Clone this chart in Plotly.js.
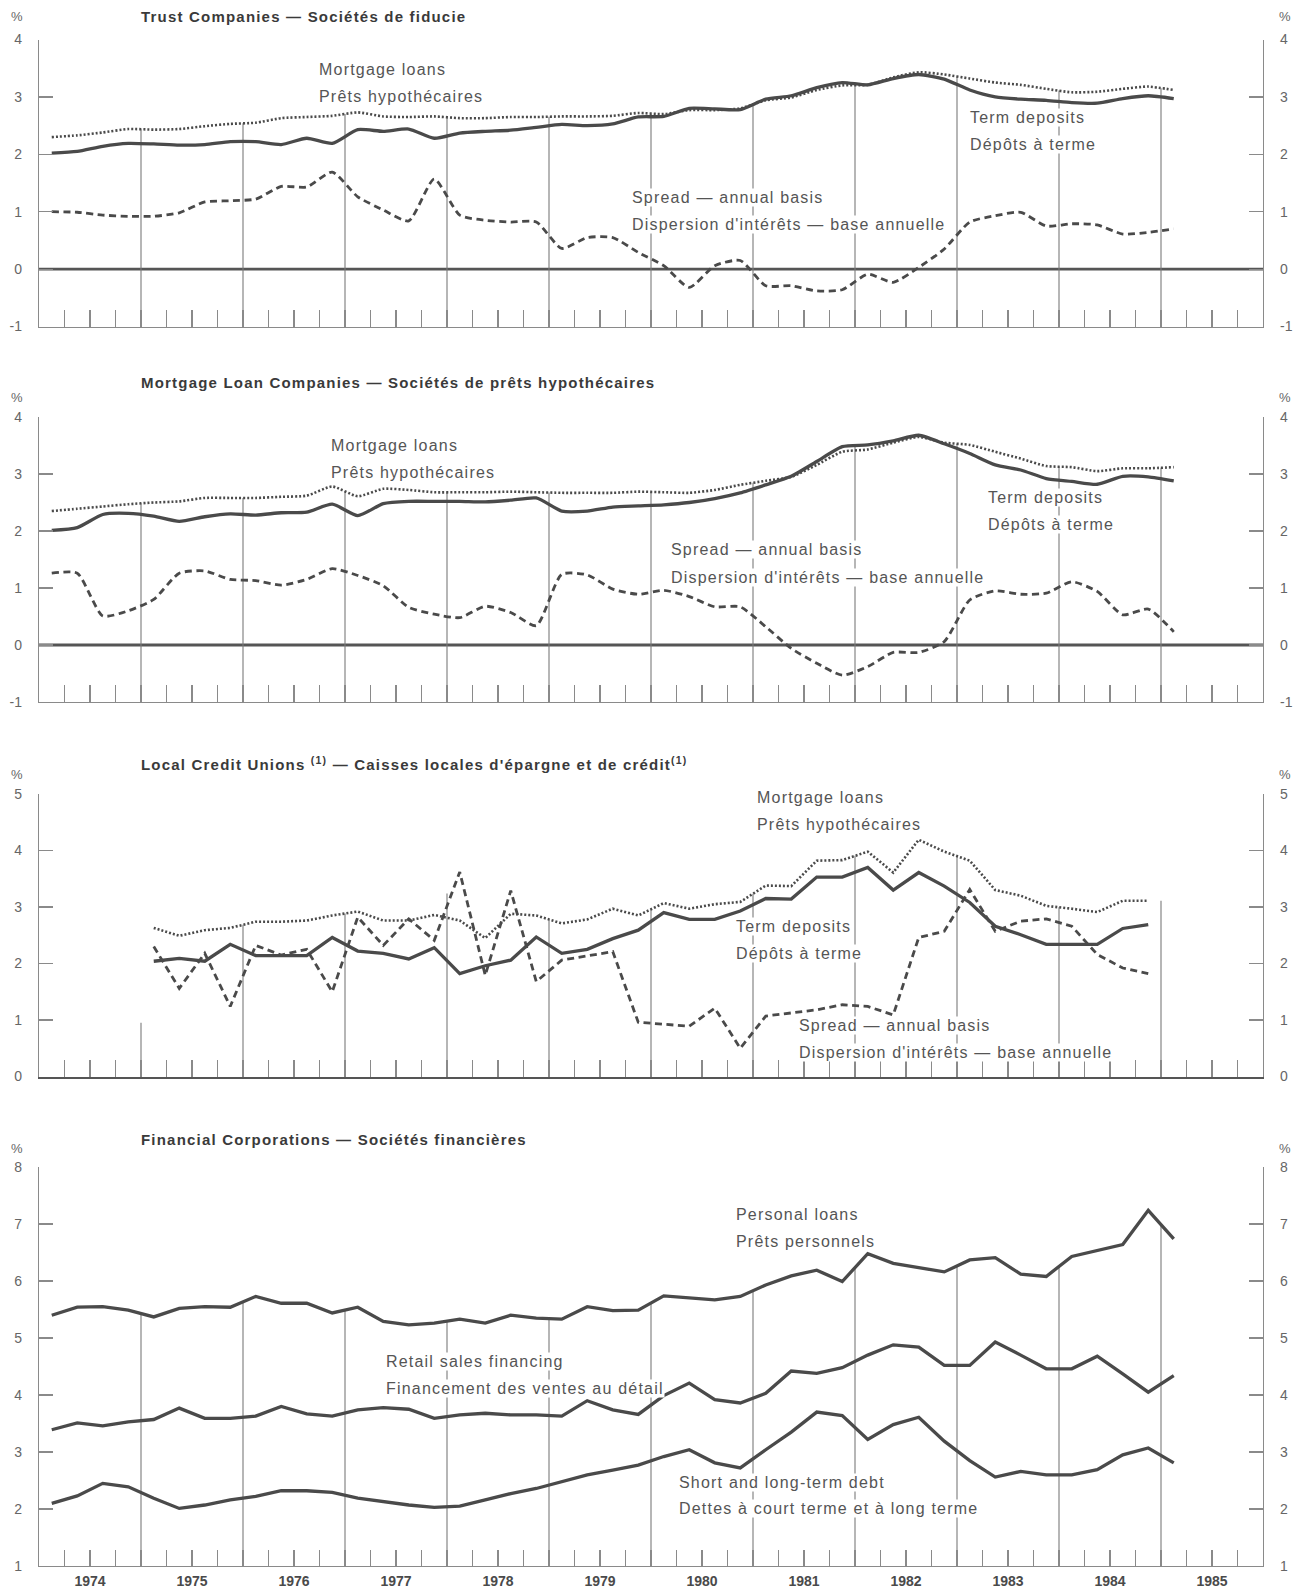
<!DOCTYPE html>
<html>
<head>
<meta charset="utf-8">
<script src="https://cdn.plot.ly/plotly-3.0.1.min.js"></script>
<style>
  body { margin: 0; background: #fff; }
  #chart { width: 1304px; height: 1591px; }
  .annotation-text { letter-spacing: 1.2px; }
  .xtick text { letter-spacing: 1.2px; }
</style>
</head>
<body>
<div id="chart"></div>
<script>
// ---------------- DATA ----------------
const yearLabels = ['1974','1975','1976','1977','1978','1979','1980','1981','1982','1983','1984','1985'];
const quarterNames = ['T1','T2','T3','T4'];
// 45 quarters: 1974 T1 .. 1985 T1
const quarters = [];
yearLabels.forEach(y => quarterNames.forEach(q => { if (quarters.length < 45) quarters.push(y + ' ' + q); }));

// Trust Companies
const trustMortgage = [2.30,2.33,2.38,2.44,2.43,2.44,2.49,2.53,2.55,2.63,2.65,2.67,2.73,2.66,2.65,2.66,2.63,2.63,2.65,2.65,2.66,2.66,2.67,2.72,
                       2.70,2.77,2.77,2.80,2.94,2.99,3.12,3.20,3.21,3.34,3.43,3.39,3.32,3.25,3.21,3.14,3.08,3.09,3.14,3.18,3.12];
const trustDeposits = [2.02,2.05,2.14,2.19,2.18,2.16,2.17,2.22,2.22,2.17,2.28,2.19,2.43,2.40,2.44,2.28,2.37,2.40,2.42,2.47,2.52,2.50,2.53,2.65,
                       2.66,2.80,2.79,2.78,2.96,3.02,3.16,3.25,3.21,3.32,3.39,3.31,3.12,3.00,2.96,2.94,2.90,2.89,2.97,3.02,2.97];
const trustSpread   = [1.00,0.99,0.94,0.92,0.92,0.98,1.17,1.19,1.22,1.44,1.43,1.69,1.26,1.03,0.84,1.57,0.94,0.85,0.82,0.82,0.36,0.55,0.55,0.29,
                       0.06,-0.32,0.06,0.15,-0.29,-0.29,-0.38,-0.36,-0.09,-0.23,0.03,0.35,0.82,0.93,0.99,0.75,0.79,0.77,0.61,0.64,0.70];

// Mortgage Loan Companies
const mlcMortgage = [2.35,2.39,2.43,2.47,2.50,2.52,2.58,2.58,2.58,2.60,2.62,2.78,2.61,2.74,2.72,2.68,2.68,2.68,2.69,2.68,2.67,2.67,2.67,2.69,
                     2.68,2.67,2.72,2.81,2.88,2.95,3.16,3.39,3.43,3.55,3.65,3.55,3.51,3.39,3.27,3.14,3.12,3.05,3.10,3.10,3.12];
const mlcDeposits = [2.01,2.06,2.29,2.31,2.26,2.17,2.25,2.30,2.28,2.32,2.33,2.47,2.27,2.48,2.52,2.52,2.52,2.51,2.54,2.58,2.35,2.35,2.42,2.44,
                     2.46,2.50,2.57,2.67,2.81,2.96,3.22,3.48,3.51,3.58,3.68,3.53,3.36,3.16,3.07,2.92,2.87,2.82,2.96,2.95,2.88];
const mlcSpread   = [1.26,1.26,0.51,0.60,0.80,1.26,1.30,1.15,1.13,1.05,1.15,1.34,1.22,1.04,0.66,0.54,0.48,0.68,0.57,0.34,1.24,1.23,0.98,0.89,
                     0.96,0.85,0.67,0.67,0.32,-0.06,-0.32,-0.53,-0.38,-0.13,-0.13,0.06,0.79,0.95,0.89,0.91,1.11,0.94,0.53,0.63,0.23];

// Local Credit Unions (data from 1975 T1 to 1984 T4)
const cuMortgage = [null,null,null,null,
                    2.63,2.49,2.59,2.63,2.74,2.74,2.76,2.85,2.92,2.76,2.76,2.86,2.76,2.45,2.88,2.85,2.71,2.78,2.97,2.85,
                    3.07,2.97,3.05,3.09,3.38,3.37,3.82,3.83,3.98,3.61,4.19,3.98,3.82,3.30,3.20,3.02,2.97,2.91,3.11,3.11,
                    null];
const cuDeposits = [null,null,null,null,
                    2.04,2.09,2.04,2.34,2.14,2.14,2.14,2.46,2.22,2.18,2.08,2.28,1.82,1.96,2.06,2.47,2.18,2.25,2.44,2.59,
                    2.90,2.78,2.78,2.93,3.15,3.14,3.53,3.53,3.70,3.30,3.61,3.37,3.08,2.66,2.51,2.34,2.34,2.34,2.62,2.69,
                    null];
const cuSpread   = [null,null,null,null,
                    2.30,1.56,2.18,1.24,2.32,2.15,2.25,1.50,2.82,2.32,2.79,2.41,3.62,1.79,3.29,1.68,2.06,2.14,2.21,0.96,
                    0.93,0.89,1.21,0.50,1.07,1.12,1.18,1.27,1.24,1.09,2.46,2.57,3.31,2.57,2.75,2.79,2.66,2.16,1.92,1.82,
                    null];

// Financial Corporations
const fcPersonal = [5.40,5.54,5.55,5.49,5.37,5.52,5.55,5.54,5.73,5.61,5.61,5.44,5.54,5.29,5.23,5.26,5.33,5.26,5.40,5.35,5.33,5.55,5.48,5.49,
                    5.74,5.70,5.67,5.73,5.93,6.09,6.19,5.99,6.48,6.31,6.23,6.16,6.37,6.41,6.12,6.08,6.43,6.54,6.64,7.24,6.74];
const fcRetail   = [3.39,3.51,3.46,3.53,3.57,3.77,3.59,3.59,3.63,3.80,3.67,3.63,3.74,3.78,3.75,3.59,3.65,3.68,3.65,3.65,3.63,3.90,3.74,3.66,
                    3.99,4.21,3.92,3.86,4.03,4.42,4.38,4.48,4.70,4.88,4.84,4.52,4.52,4.93,4.70,4.46,4.46,4.68,4.37,4.05,4.34];
const fcDebt     = [2.10,2.23,2.45,2.39,2.19,2.01,2.07,2.16,2.22,2.32,2.32,2.29,2.19,2.13,2.07,2.03,2.05,2.16,2.27,2.36,2.48,2.60,2.68,2.77,
                    2.92,3.04,2.81,2.72,3.04,3.35,3.70,3.64,3.22,3.48,3.61,3.19,2.85,2.56,2.66,2.60,2.60,2.69,2.95,3.07,2.81];

// ---------------- RENDER ----------------
const FONT = 'Liberation Sans, Arial, Helvetica, sans-serif';
const LINE = '#4a4a4a';
const AXC = '#8a8a8a';
const TXT = '#555555';
const W = 1304, H = 1591, L = 39, R = 1263;
const firstYear = Number(yearLabels[0]);
const lastYear = firstYear + yearLabels.length; // 1986
const xq = quarters.map((q, i) => firstYear + (i + 0.5) / 4);
const quarterBounds = [];
for (let k = 1; k < (lastYear - firstYear) * 4; k++) quarterBounds.push(firstYear + k / 4);
const yearBounds = [];
for (let y = firstYear + 1; y < lastYear; y++) yearBounds.push(y);

const panels = [
  { top: 39.5, bottom: 326.5, range: [-1, 4], zero: true, smooth: true, bottomWidth: 1.3,
    series: [[trustMortgage, 'dot'], [trustDeposits, 'solid'], [trustSpread, 'dash']],
    title: '<b>Trust Companies — Sociétés de fiducie</b>', titleY: 16, pctY: 17,
    labels: [['Mortgage loans', 318, 70], ['Prêts hypothécaires', 318, 97],
             ['Term deposits', 969, 118], ['Dépôts à terme', 969, 145],
             ['Spread — annual basis', 631, 198], ['Dispersion d\'intérêts — base annuelle', 631, 225]] },
  { top: 417, bottom: 702, range: [-1, 4], zero: true, smooth: true, bottomWidth: 1.3,
    series: [[mlcMortgage, 'dot'], [mlcDeposits, 'solid'], [mlcSpread, 'dash']],
    title: '<b>Mortgage Loan Companies — Sociétés de prêts hypothécaires</b>', titleY: 383, pctY: 397,
    labels: [['Mortgage loans', 330, 445], ['Prêts hypothécaires', 330, 472],
             ['Term deposits', 987, 497], ['Dépôts à terme', 987, 524],
             ['Spread — annual basis', 670, 549], ['Dispersion d\'intérêts — base annuelle', 670, 577]] },
  { top: 794, bottom: 1076.5, range: [0, 5], zero: false, smooth: false, bottomWidth: 2.8,
    series: [[cuMortgage, 'dot'], [cuDeposits, 'solid'], [cuSpread, 'dash']],
    title: '<b>Local Credit Unions <sup>(1)</sup> — Caisses locales d\'épargne et de crédit<sup>(1)</sup></b>', titleY: 763, pctY: 774,
    labels: [['Mortgage loans', 756, 797], ['Prêts hypothécaires', 756, 824],
             ['Term deposits', 735, 926], ['Dépôts à terme', 735, 953],
             ['Spread — annual basis', 798, 1025], ['Dispersion d\'intérêts — base annuelle', 798, 1052]] },
  { top: 1167, bottom: 1566, range: [1, 8], zero: false, smooth: false, bottomWidth: 1.3,
    series: [[fcPersonal, 'solid'], [fcRetail, 'solid'], [fcDebt, 'solid']],
    title: '<b>Financial Corporations — Sociétés financières</b>', titleY: 1139, pctY: 1148,
    labels: [['Personal loans', 735, 1214], ['Prêts personnels', 735, 1241],
             ['Retail sales financing', 385, 1361], ['Financement des ventes au détail', 385, 1388],
             ['Short and long-term debt', 678, 1482], ['Dettes à court terme et à long terme', 678, 1508]] }
];

function lineStyle(kind, smooth) {
  const base = { color: LINE, shape: smooth ? 'spline' : 'linear', smoothing: 0.6 };
  if (kind === 'solid') return Object.assign(base, { width: 3.3 });
  if (kind === 'dot') return Object.assign(base, { width: 2.6, dash: '2px,2px' });
  return Object.assign(base, { width: 2.8, dash: '7px,4.5px' });
}
const px2x = p => (p - L) / (R - L);
const px2y = p => 1 - p / H;
function note(text, px, py, extra) {
  return Object.assign({
    xref: 'paper', yref: 'paper', x: px2x(px), y: px2y(py), text: text, showarrow: false,
    xanchor: 'left', yanchor: 'middle', borderpad: 0,
    font: { family: FONT, size: 16, color: TXT }
  }, extra || {});
}

const data = [];
const layout = {
  width: W, height: H, margin: { l: L, r: W - R, t: 0, b: 0 },
  paper_bgcolor: '#ffffff', plot_bgcolor: 'rgba(0,0,0,0)', showlegend: false,
  font: { family: FONT, color: TXT }, shapes: [], annotations: []
};

panels.forEach((p, i) => {
  const n = i + 1;
  const sx = n === 1 ? '' : String(n);
  const xId = 'x' + sx, yId = 'y' + sx, yRightId = 'y' + (n + 4);
  const tickVals = [];
  for (let v = p.range[0]; v <= p.range[1]; v++) tickVals.push(v);

  p.series.forEach(([vals, kind]) => {
    data.push({ type: 'scatter', mode: 'lines', x: xq, y: vals, xaxis: xId, yaxis: yId,
                line: lineStyle(kind, p.smooth), connectgaps: false, hoverinfo: 'skip' });
  });
  // invisible copy bound to the right-hand axis so that axis is built and labelled
  data.push({ type: 'scatter', mode: 'lines', x: xq, y: p.series[0][0], xaxis: xId, yaxis: yRightId,
              line: { width: 0, color: 'rgba(0,0,0,0)' }, opacity: 0, hoverinfo: 'skip' });

  const xa = {
    domain: [0, 1], anchor: yId, range: [firstYear, lastYear], showgrid: false, zeroline: false,
    showline: true, linecolor: n === 3 ? '#555' : AXC, linewidth: p.bottomWidth, fixedrange: true
  };
  if (n === 4) {
    Object.assign(xa, {
      tickmode: 'array', tickvals: yearLabels.map(y => Number(y) + 0.5),
      ticktext: yearLabels.map(y => '<b>' + y + '</b>'), ticks: '',
      tickfont: { family: FONT, size: 14, color: '#4a4a4a' }, ticklabelstandoff: 2,
      minor: { tickmode: 'array', tickvals: quarterBounds, ticks: 'inside', ticklen: 16, tickcolor: AXC, tickwidth: 1.2 }
    });
  } else {
    Object.assign(xa, { tickmode: 'array', tickvals: quarterBounds, ticks: 'inside', ticklen: 17,
                        tickcolor: AXC, tickwidth: 1.2, showticklabels: false });
  }
  layout['xaxis' + sx] = xa;

  const yCommon = {
    domain: [px2y(p.bottom), px2y(p.top)], range: p.range, tickmode: 'array', tickvals: tickVals,
    ticktext: tickVals.map(v => String(v)),
    ticks: 'inside', ticklen: 14, tickcolor: AXC, tickwidth: 1.2, showline: true, linecolor: AXC, linewidth: 1.2,
    showgrid: false, zeroline: false, tickfont: { family: FONT, size: 14, color: '#666' }, ticklabelstandoff: 13, fixedrange: true
  };
  layout['yaxis' + sx] = Object.assign({}, yCommon, { anchor: xId, side: 'left' });
  layout['yaxis' + (n + 4)] = Object.assign({}, yCommon, { anchor: xId, overlaying: yId, side: 'right' });

  // zero reference line across the whole panel
  if (p.zero) {
    layout.shapes.push({ type: 'line', xref: xId + ' domain', yref: yId, x0: 0, x1: 1, y0: 0, y1: 0,
                         line: { color: '#555', width: 2.8 }, layer: 'below' });
  }

  // year separators, rising to the highest series at each year boundary
  yearBounds.forEach(yr => {
    const iL = (yr - firstYear) * 4 - 1, iR = iL + 1;
    const maxAt = idx => {
      let m = null;
      p.series.forEach(([vals]) => { const v = vals[idx]; if (v !== null && v !== undefined && (m === null || v > m)) m = v; });
      return m;
    };
    const vL = maxAt(iL), vR = maxAt(iR);
    let top;
    if (vL === null && vR === null) return;
    if (vL === null) top = p.range[0] + (p.range[1] - p.range[0]) * 0.19;
    else if (vR === null) top = vL;
    else top = (vL + vR) / 2;
    layout.shapes.push({ type: 'line', xref: xId, yref: yId, x0: yr, x1: yr, y0: p.range[0], y1: top,
                         line: { color: '#7a7a7a', width: 1.1 }, layer: 'below' });
  });

  layout.annotations.push(note(p.title, 140, p.titleY, { font: { family: FONT, size: 15, color: '#3a3a3a' } }));
  layout.annotations.push(note('%', 17, p.pctY, { xanchor: 'center', font: { family: FONT, size: 13, color: '#666' } }));
  layout.annotations.push(note('%', 1285, p.pctY, { xanchor: 'center', font: { family: FONT, size: 13, color: '#666' } }));
  p.labels.forEach(([t, lx, ly]) => layout.annotations.push(note(t, lx, ly, { bgcolor: '#ffffff' })));
});

Plotly.newPlot('chart', data, layout, { displayModeBar: false, staticPlot: true });
</script>
</body>
</html>
